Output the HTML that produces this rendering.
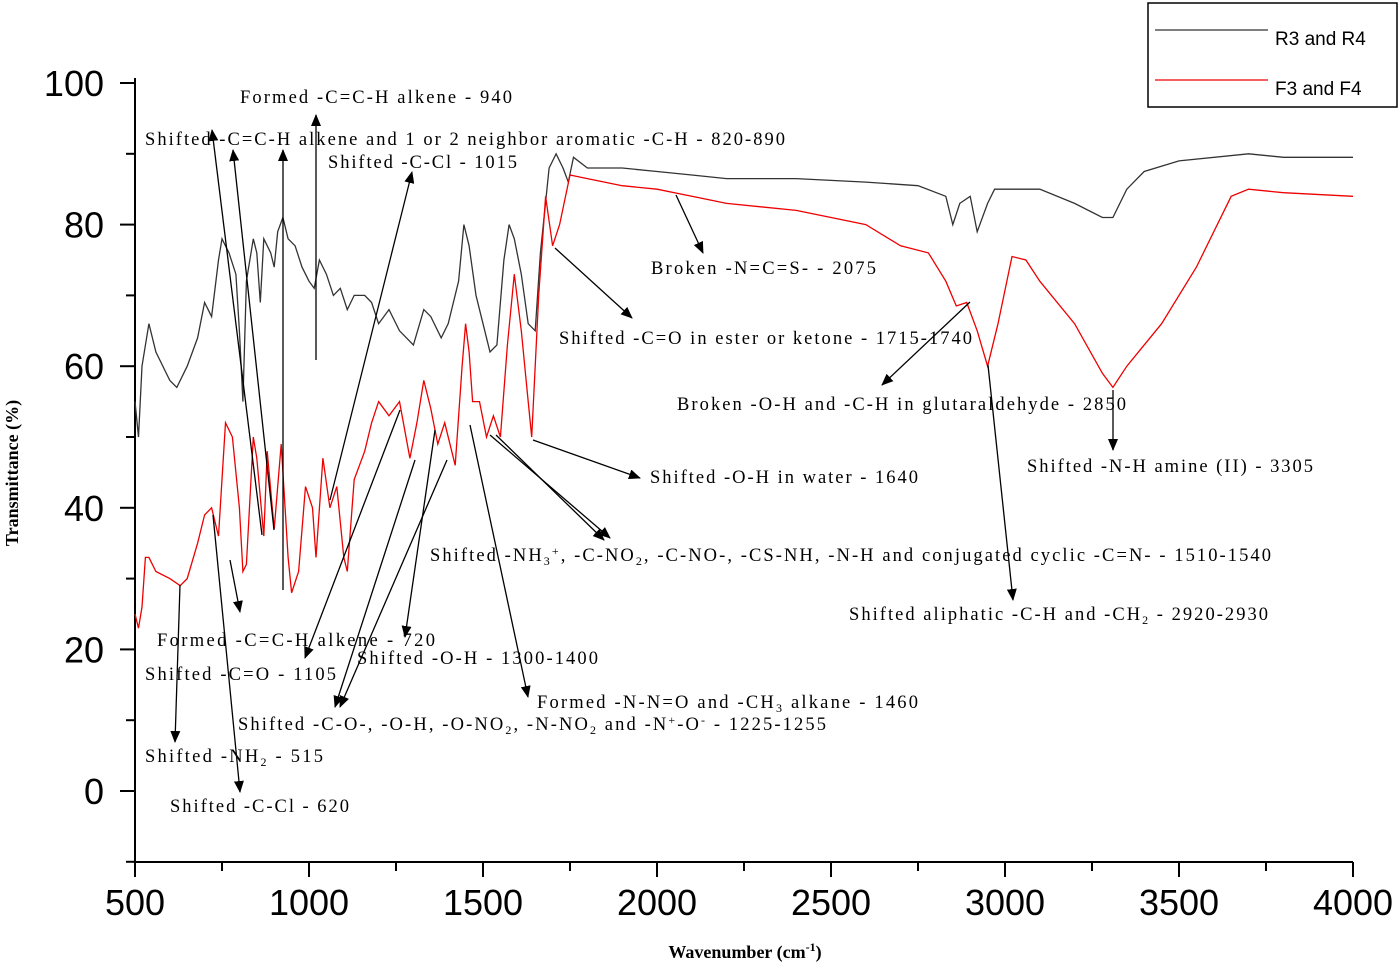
<!DOCTYPE html>
<html><head><meta charset="utf-8"><style>
body{margin:0;background:#fff;}
svg{display:block;}
.ann{font-family:"Liberation Serif",serif;font-size:18.5px;fill:#000;}
.tick{font-family:"Liberation Sans",sans-serif;font-size:36px;fill:#000;}
</style></head><body>
<svg id="chart" width="1400" height="965" viewBox="0 0 1400 965">
<defs><marker id="ah" markerWidth="12" markerHeight="10" refX="11" refY="5" orient="auto" markerUnits="userSpaceOnUse"><path d="M0,0 L12,5 L0,10 Z" fill="#000"/></marker></defs>
<g id="axes"></g>
<g id="series"></g>
<g id="anns"></g>
<g>
<rect x="1148" y="3" width="249" height="104" fill="#fff" stroke="#000" stroke-width="1.5"/>
<line x1="1155" y1="30" x2="1268" y2="30" stroke="#333" stroke-width="1.2"/>
<text x="1275" y="45" font-family="Liberation Sans,sans-serif" font-size="19">R3 and R4</text>
<line x1="1155" y1="80" x2="1268" y2="80" stroke="#e00" stroke-width="1.2"/>
<text x="1275" y="95" font-family="Liberation Sans,sans-serif" font-size="19">F3 and F4</text>
</g>
<text x="745" y="958" text-anchor="middle" font-family="Liberation Serif,serif" font-weight="bold" font-size="18">Wavenumber (cm<tspan dy="-7" font-size="12">-1</tspan><tspan dy="7">)</tspan></text>
<text transform="translate(18,473) rotate(-90)" text-anchor="middle" font-family="Liberation Serif,serif" font-weight="bold" font-size="18">Transmittance (%)</text>
</svg>
<script>
const xTicks=[500,1000,1500,2000,2500,3000,3500,4000];
const yTicks=[0,20,40,60,80,100];
const blackX=[500,510,520,540,560,600,620,650,680,700,720,740,750,770,790,800,810,820,840,850,860,870,890,900,910,925,940,960,980,1000,1015,1030,1050,1070,1090,1110,1130,1160,1180,1200,1230,1260,1300,1330,1350,1380,1400,1430,1445,1460,1480,1500,1520,1540,1560,1575,1590,1610,1630,1650,1665,1690,1710,1730,1745,1760,1800,1900,2000,2100,2200,2400,2600,2750,2830,2850,2870,2900,2920,2950,2970,3000,3100,3200,3280,3310,3350,3400,3500,3700,3800,4000];
const blackY=[55,50,60,66,62,58,57,60,64,69,67,75,78,76,73,65,55,72,78,76,69,78,76,74,79,81,78,77,74,72,71,75,73,70,71,68,70,70,69,66,68,65,63,68,67,64,66,72,80,77,70,66,62,63,75,80,78,73,66,65,76,88,90,88,86,89.5,88,88,87.5,87,86.5,86.5,86,85.5,84,80,83,84,79,83,85,85,85,83,81,81,85,87.5,89,90,89.5,89.5];
const redX=[500,510,520,530,540,560,600,630,650,680,700,720,740,760,780,800,810,820,840,850,870,880,900,920,940,950,970,990,1010,1020,1040,1060,1080,1100,1110,1130,1160,1180,1200,1230,1260,1290,1310,1330,1350,1370,1390,1420,1440,1450,1460,1470,1490,1510,1530,1550,1570,1590,1610,1630,1640,1660,1680,1700,1720,1750,1800,1900,2000,2100,2200,2400,2600,2700,2780,2830,2860,2890,2920,2950,2980,3020,3060,3100,3200,3280,3310,3350,3450,3550,3650,3700,3800,4000];
const redY=[25,23,26,33,33,31,30,29,30,35,39,40,36,52,50,40,31,32,50,47,36,48,37,49,33,28,31,43,40,33,47,40,43,33,31,44,48,52,55,53,55,47,52,58,54,49,52,46,60,66,62,55,55,50,53,50,63,73,65,55,50,70,84,77,80,87,86.5,85.5,85,84,83,82,80,77,76,72,68.5,69,65,60,66,75.5,75,72,66,59,57,60,66,74,84,85,84.5,84];
const X0=135,X1=1353,YT=83,YB=791,AXB=862;
const sx=v=>X0+(v-500)/3500*(X1-X0);
const sy=v=>YB-(v/100)*(YB-YT);
const NS='http://www.w3.org/2000/svg';
function mk(tag,attrs,parent){const e=document.createElementNS(NS,tag);for(const k in attrs)e.setAttribute(k,attrs[k]);parent.appendChild(e);return e;}
const ax=document.getElementById('axes');
let l=mk('line',{x1:X0,y1:YT-5,x2:X0,y2:AXB,stroke:'#000','stroke-width':2},ax);


l=mk('line',{x1:X0,y1:AXB,x2:X1,y2:AXB,stroke:'#000','stroke-width':2},ax);


for(let v=-10;v<=100;v+=10){const major=v%20===0&&v>=0;
 const t=mk('line',{x1:X0-(major?15:9),y1:sy(v),x2:X0,y2:sy(v),stroke:'#000','stroke-width':2},ax);
 
 }
yTicks.forEach(v=>{const t=mk('text',{x:104,y:sy(v)+13,'text-anchor':'end',class:'tick'},ax);t.textContent=v;
 
 });
for(let v=500;v<=4000;v+=250){const major=v%500===0;
 const t=mk('line',{x1:sx(v),y1:AXB,x2:sx(v),y2:AXB+(major?15:9),stroke:'#000','stroke-width':2},ax);
 
 }
xTicks.forEach(v=>{const t=mk('text',{x:sx(v),y:915,'text-anchor':'middle',class:'tick'},ax);t.textContent=v;
 
 });
const sg=document.getElementById('series');
function line(xs,ys,c,name){const d=xs.map((x,i)=>(i?'L':'M')+sx(x).toFixed(1)+','+sy(ys[i]).toFixed(1)).join(' ');
 const p=mk('path',{d:d,fill:'none',stroke:c,'stroke-width':1.3},sg);
 
 }
line(blackX,blackY,'#333','series-r3-r4');
line(redX,redY,'#e00','series-f3-f4');
const ag=document.getElementById('anns');
const arrows=[[316,360,316,115],[262,535,212,130],[274,530,233,150],[283,590,283,150],[330,500,412,172],[676,195,703,253],[555,248,632,318],[970,302,882,385],[1113,390,1113,450],[533,440,640,478],[490,435,610,538],[496,435,604,540],[988,365,1013,600],[230,560,240,612],[400,410,305,658],[435,430,405,637],[470,425,528,697],[415,460,335,707],[447,460,340,707],[180,585,175,742],[213,515,240,792]];
arrows.forEach(a=>{const e=mk('line',{x1:a[0],y1:a[1],x2:a[2],y2:a[3],stroke:'#000','stroke-width':1.3,'marker-end':'url(#ah)'},ag);
 
 });
const labels=[
[240,103,512,'Formed -C=C-H alkene - 940'],
[145,145,785,'Shifted -C=C-H alkene and 1 or 2 neighbor aromatic -C-H - 820-890'],
[328,168,517,'Shifted -C-Cl - 1015'],
[651,274,876,'Broken -N=C=S- - 2075'],
[559,344,972,'Shifted -C=O in ester or ketone - 1715-1740'],
[677,410,1126,'Broken -O-H and -C-H in glutaraldehyde - 2850'],
[1027,472,1313,'Shifted -N-H amine (II) - 3305'],
[650,483,918,'Shifted -O-H in water - 1640'],
[430,561,1271,'Shifted -NH<tspan dy="4" font-size="12">3</tspan><tspan dy="-10" font-size="12">+</tspan><tspan dy="6">, -C-NO</tspan><tspan dy="4" font-size="12">2</tspan><tspan dy="-4">, -C-NO-, -CS-NH, -N-H and conjugated cyclic -C=N- - 1510-1540</tspan>'],
[849,620,1268,'Shifted aliphatic -C-H and -CH<tspan dy="4" font-size="12">2</tspan><tspan dy="-4"> - 2920-2930</tspan>'],
[157,646,435,'Formed -C=C-H alkene - 720'],
[145,680,336,'Shifted -C=O - 1105'],
[357,664,598,'Shifted -O-H - 1300-1400'],
[537,708,918,'Formed -N-N=O and -CH<tspan dy="4" font-size="12">3</tspan><tspan dy="-4"> alkane - 1460</tspan>'],
[238,730,826,'Shifted -C-O-, -O-H, -O-NO<tspan dy="4" font-size="12">2</tspan><tspan dy="-4">, -N-NO</tspan><tspan dy="4" font-size="12">2</tspan><tspan dy="-4"> and -N</tspan><tspan dy="-6" font-size="12">+</tspan><tspan dy="6">-O</tspan><tspan dy="-6" font-size="12">-</tspan><tspan dy="6"> - 1225-1255</tspan>'],
[145,762,323,'Shifted -NH<tspan dy="4" font-size="12">2</tspan><tspan dy="-4"> - 515</tspan>'],
[170,812,349,'Shifted -C-Cl - 620']];
labels.forEach(t=>{const e=mk('text',{x:t[0],y:t[1],class:'ann',textLength:t[2]-t[0],lengthAdjust:'spacing'},ag);e.innerHTML=t[3];
 
 });
</script>
</body></html>
